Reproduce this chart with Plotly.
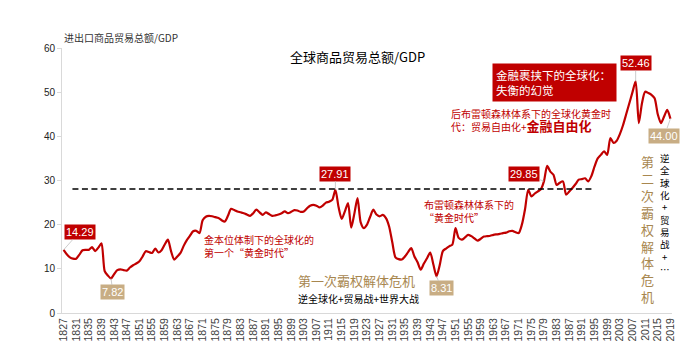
import plotly.graph_objects as go

# ---------------- data ----------------
years = list(range(1827, 2020))
trade_gdp = [
    14.29, 13.3, 12.6,
    12.3, 12.3, 13.2, 14.2, 14.3, 14.3, 14.9, 14.0, 14.8, 15.8,
    9.5, 8.5, 7.82, 8.8, 9.7, 9.9, 9.7, 9.6, 10.3, 10.8,
    11.2, 11.7, 12.8, 14.0, 13.8, 13.6, 14.6, 13.7, 14.2, 15.5,
    16.6, 14.0, 12.1, 12.8, 13.6, 15.2, 16.5, 17.5, 18.5, 18.6,
    18.1, 21.0, 21.8, 22.0, 21.9, 21.7, 21.5, 21.0, 20.7, 22.0,
    23.6, 23.3, 23.0, 22.8, 22.6, 22.3, 22.0, 22.6, 23.4, 22.8,
    22.2, 22.8, 22.4, 22.0, 22.1, 22.3, 22.6, 23.0, 22.6, 22.9,
    23.3, 23.2, 22.9, 23.0, 23.7, 24.3, 24.5, 24.3, 23.9, 24.3,
    25.0, 25.2, 25.6, 27.91, 24.0, 21.3, 23.0, 24.9, 19.3, 22.5,
    26.0, 20.5, 19.2, 20.0, 21.8, 23.4, 22.3, 21.9, 22.2, 21.5,
    19.6, 16.0, 12.6, 12.2, 12.1, 12.8, 13.8, 14.7, 12.8, 11.5,
    9.8, 11.2, 12.4, 13.7, 11.0, 8.31, 10.8, 14.0, 14.6, 15.1,
    15.5, 19.2, 17.0, 16.6, 17.1, 17.7, 17.4, 16.9, 16.4, 16.8,
    17.3, 17.4, 17.5, 17.7, 17.8, 17.9, 18.1, 18.2, 18.5, 18.6,
    18.3, 18.1, 20.0, 23.5, 27.9, 26.4, 27.0, 27.5, 28.0, 29.85,
    33.3, 32.0, 31.3, 29.0, 29.5, 29.8, 26.8, 27.5, 28.3, 29.2,
    30.2, 30.3, 30.5, 29.8, 31.0, 33.2, 35.0, 35.8, 36.6, 35.8,
    39.6, 38.5, 39.0, 40.5, 42.5, 45.0, 47.5, 50.0, 52.46, 43.0,
    47.5, 50.1, 49.8, 49.4, 48.6, 45.0, 43.0, 44.5, 46.0, 44.00,
]
assert len(years) == len(trade_gdp)

tick_years = list(range(1827, 2020, 4))
y_ticks = [0, 10, 20, 30, 40, 50, 60]

dash_level = 28.1
dash_from, dash_to = 1829.8, 1994.7

# labelled points: year, style, pixel offset of the box
peak_labels = [(1827, "red", 16, -18), (1913, "red", 0, -16), (1979, "red", -20, -7),
               (2008, "red", 0, -18)]
trough_labels = [(1842, "tan", 2, 14), (1945, "tan", 5, 12), (2019, "tan", -6, 17)]

RED = "#C00000"
TAN = "#C8AD84"
GOLD = "#A8874F"
CJK = "Noto Sans CJK SC"
LAT = "Liberation Sans, Arial"

# plot area in pixels
W, H = 692, 351
L, R, T, B = 62, 672, 48, 313


def xp(px):
    return (px - L) / (R - L)


def yp(py):
    return (B - py) / (B - T)


fig = go.Figure()
fig.add_trace(go.Scatter(x=years, y=trade_gdp, mode="lines",
                         line=dict(color=RED, width=2.2, shape="spline", smoothing=0.7),
                         hoverinfo="x+y", showlegend=False))

fig.add_shape(type="line", xref="x", yref="y", x0=dash_from, x1=dash_to,
              y0=dash_level, y1=dash_level,
              line=dict(color="black", width=1.5, dash="6px,3.5px"))

ann = []
for yr, style, ax, ay in peak_labels + trough_labels:
    v = trade_gdp[years.index(yr)]
    ann.append(dict(x=yr, y=v, xref="x", yref="y", text=f"{v:.2f}",
                    showarrow=True, arrowhead=0, arrowwidth=0.8, arrowcolor="#BFBFBF",
                    ax=ax, ay=ay, bgcolor=RED if style == "red" else TAN,
                    borderpad=1, font=dict(family=LAT, size=11, color="white")))


def txt(text, x, y, size, color, xanchor="left", family=CJK, **kw):
    d = dict(text=text, x=xp(x), y=yp(y), xref="paper", yref="paper",
             xanchor=xanchor, yanchor="middle", showarrow=False,
             font=dict(family=family, size=size, color=color))
    d.update(kw)
    ann.append(d)


txt("进出口商品贸易总额/GDP", 62, 37, 10, "#333333")
txt("全球商品贸易总额/GDP", 357, 56, 13, "black", xanchor="center")

txt("金融裹挟下的全球化：<br>失衡的幻觉", 492, 82, 11.5, "white", align="left",
    bgcolor=RED, borderpad=3, width=117)
txt("后布雷顿森林体系下的全球化黄金时<br>代：贸易自由化+<b><span style='font-size:13px'>金融自由化</span></b>",
    449, 120, 10, RED, align="left")

txt("布雷顿森林体系下的<br>“黄金时代”", 422, 211, 10, RED, align="left")

txt("金本位体制下的全球化的<br>第一个“黄金时代”", 202, 246.5, 10, RED, align="left")

txt("第一次霸权解体危机<br><span style='font-size:10px;color:black'>逆全球化+贸易战+世界大战</span>",
    296, 288, 13, GOLD, align="left")

txt("<br>".join("第二次霸权解体危机"), 647, 229, 13, GOLD, xanchor="center")
txt("<br>".join(list("逆全球化+贸易战+") + ["…"]), 665, 213, 9.5, "black",
    xanchor="center")

fig.update_layout(
    width=W, height=H,
    margin=dict(l=L, r=W - R, t=T, b=H - B),
    plot_bgcolor="white", paper_bgcolor="white",
    annotations=ann,
    xaxis=dict(range=[1826.5, 2019.5], tickvals=tick_years,
               ticktext=[str(t) for t in tick_years], tickangle=-90,
               tickfont=dict(family=LAT, size=10.5, color="#404040"),
               showgrid=False, zeroline=False, showline=True, linecolor="#D9D9D9",
               ticks="", automargin=False),
    yaxis=dict(range=[0, 60], tickvals=y_ticks, showgrid=False, zeroline=False,
               showline=True, linecolor="#D9D9D9", ticks="outside", ticklen=4,
               tickcolor="#D9D9D9",
               tickfont=dict(family=LAT, size=10, color="#222222"),
               automargin=False),
    font=dict(family=CJK),
)

fig.write_html("out.html")
